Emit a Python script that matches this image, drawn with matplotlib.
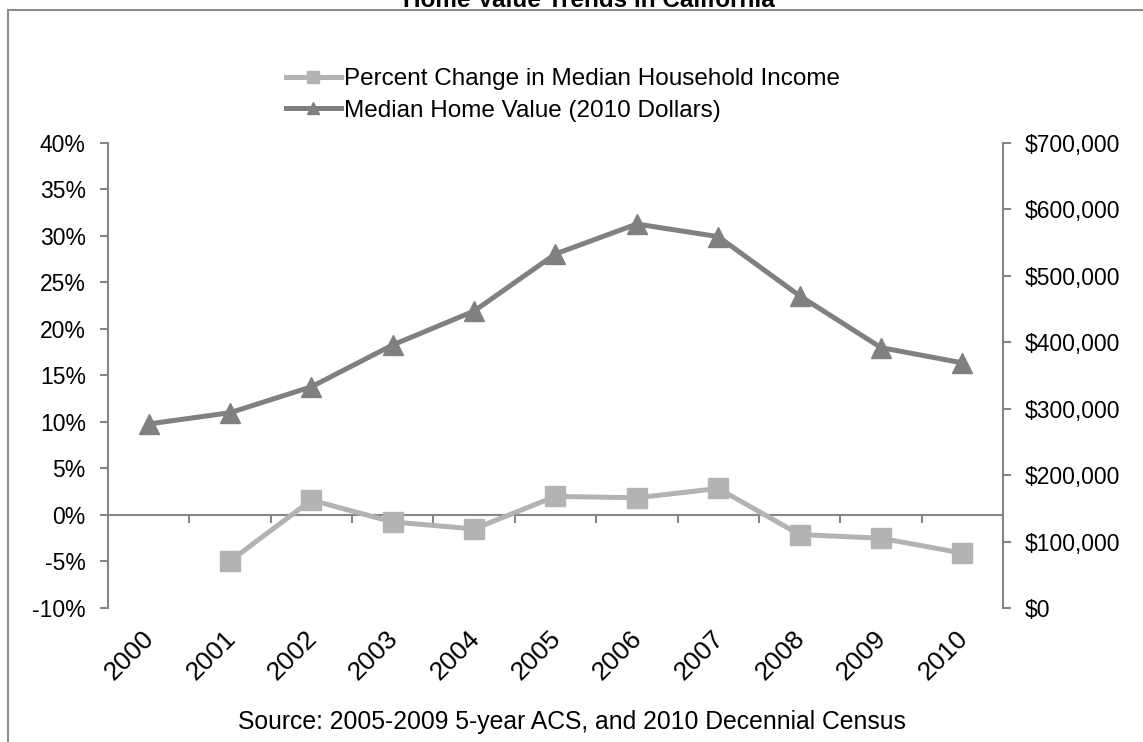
import matplotlib.pyplot as plt
import matplotlib
from matplotlib.patches import Rectangle
from matplotlib.ticker import FuncFormatter, MultipleLocator, FixedLocator
from matplotlib.transforms import blended_transform_factory

matplotlib.rcParams['font.family'] = ['Liberation Sans', 'DejaVu Sans']

# data
years = ['2000', '2001', '2002', '2003', '2004', '2005', '2006', '2007', '2008', '2009', '2010']
income_change = [None, -4.95, 1.6, -0.75, -1.5, 2.0, 1.85, 2.85, -2.1, -2.5, -4.1]  # percent
home_value = [277000, 294000, 333000, 396000, 447000, 533000, 578000, 559000, 470000, 392000, 369000]

income_label = 'Percent Change in Median Household Income'
home_label = 'Median Home Value (2010 Dollars)'
title = 'Home Value Trends in California'
source = 'Source: 2005-2009 5-year ACS, and 2010 Decennial Census'

light = '#b3b3b3'
dark = '#808080'
axis_col = '#868686'

fig = plt.figure(figsize=(11.43, 7.42), dpi=100)
ax = fig.add_axes([0.0945, 0.1806, 0.783, 0.6267])
ax2 = ax.twinx()

x = list(range(len(years)))
inc_x = [i for i, v in zip(x, income_change) if v is not None]
inc_y = [v for v in income_change if v is not None]

l1, = ax.plot(inc_x, inc_y, color=light, lw=3.6, marker='s', markersize=14.5,
              markerfacecolor=light, markeredgecolor=light, label=income_label, zorder=3)
l2, = ax2.plot(x, home_value, color=dark, lw=3.6, marker='^', markersize=15,
               markerfacecolor=dark, markeredgecolor=dark, label=home_label, zorder=3)

ax.set_xlim(-0.5, len(years) - 0.5)
ax.set_ylim(-10, 40)
ax2.set_ylim(0, 700000)
ax.yaxis.set_major_locator(MultipleLocator(5))
ax.yaxis.set_major_formatter(FuncFormatter(lambda v, p: f'{v:.0f}%'))
ax2.yaxis.set_major_locator(MultipleLocator(100000))
ax2.yaxis.set_major_formatter(FuncFormatter(lambda v, p: '$0' if v == 0 else f'${v:,.0f}'))

for a in (ax, ax2):
    for s in a.spines.values():
        s.set_visible(False)
ax.spines['left'].set_visible(True)
ax.spines['left'].set_color(axis_col)
ax.spines['left'].set_linewidth(1.5)
ax2.spines['right'].set_visible(True)
ax2.spines['right'].set_color(axis_col)
ax2.spines['right'].set_linewidth(1.5)
ax.spines['bottom'].set_visible(True)
ax.spines['bottom'].set_position(('data', 0))
ax.spines['bottom'].set_color(axis_col)
ax.spines['bottom'].set_linewidth(1.5)

ax.tick_params(axis='y', length=6, width=1.5, color=axis_col, pad=10, labelsize=16.5)
ax2.tick_params(axis='y', length=6, width=1.5, color=axis_col, pad=10, labelsize=16.5)
ax.xaxis.set_major_locator(FixedLocator([i + 0.5 for i in x[:-1]]))
ax.tick_params(axis='x', length=6, width=1.5, color=axis_col, labelbottom=False)

trans = blended_transform_factory(ax.transData, ax.transAxes)
for i, yr in enumerate(years):
    ax.text(i + 0.02, -0.058, yr, transform=trans, rotation=45, rotation_mode='anchor',
            ha='right', va='center', fontsize=19)

fig.legend([l1, l2], [income_label, home_label], loc='upper left',
           bbox_to_anchor=(274 / 1143, 1 - 56 / 742), frameon=False, fontsize=17.5,
           borderpad=0, handlelength=2.25, handletextpad=0.12, labelspacing=0.4,
           markerscale=0.6)

fig.text(0.515, 1 - 7 / 742, title, ha='center', va='baseline', fontsize=17.5, fontweight='bold')
fig.text(0.5, 1 - 722 / 742, source, ha='center', va='center', fontsize=17.8)

fig.patches.append(Rectangle((8 / 1143, -0.1), 1.2, 1.1 - 10 / 742, transform=fig.transFigure,
                             fill=False, edgecolor='#8c8c8c', lw=1.5))

fig.savefig('out.png', dpi=100)
